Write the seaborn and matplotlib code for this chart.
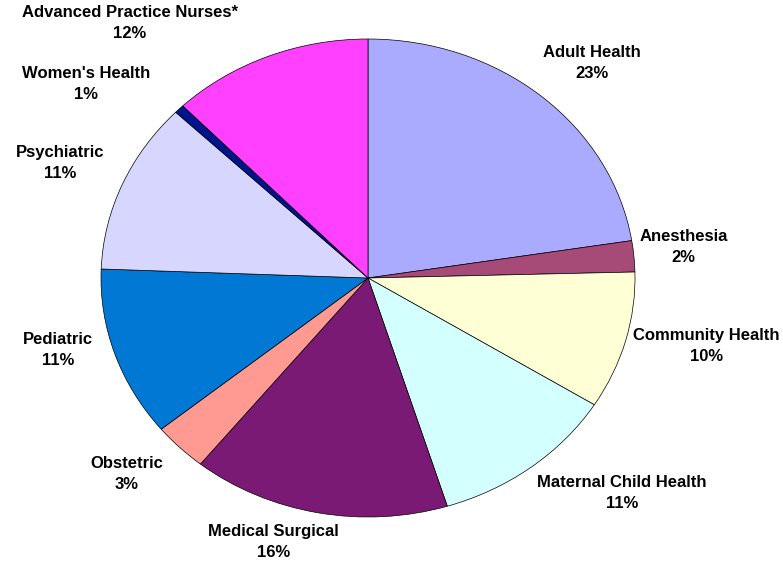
import numpy as np
import seaborn as sns
import matplotlib.pyplot as plt

# specialty areas, clockwise from 12 o'clock
areas = ["Adult Health", "Anesthesia", "Community Health", "Maternal Child Health",
         "Medical Surgical", "Obstetric", "Pediatric", "Psychiatric",
         "Women's Health", "Advanced Practice Nurses*"]
shares = [22.5, 2.1, 9.3, 11.3, 15.6, 3.3, 11.5, 11.6, 0.6, 12.2]
pct_text = ["23%", "2%", "10%", "11%", "16%", "3%", "11%", "11%", "1%", "12%"]
colors = ["#AAAAFF", "#A64A78", "#FFFFD6", "#D4FFFF", "#7A1A74",
          "#FF9A92", "#0078D4", "#D6D6FF", "#00148C", "#FF40FF"]

# label placement: distance from centre (in radii) and angle nudge (deg)
lab_dist = [1.23, 1.19, 1.30, 1.31, 1.16, 1.22, 1.20, 1.25, 1.33, 1.39]
lab_nudge = [-2.5, 1.0, 2.7, 9.0, -7.0, -3.0, -4.0, 0.3, 7.5, 18.0]

sns.set_theme(style="white")
plt.rcParams["font.family"] = ["Liberation Sans", "DejaVu Sans"]

fig = plt.figure(figsize=(7.83, 5.62), dpi=100)
ax = fig.add_axes([0, 0, 1, 1])

wedges, _ = ax.pie(shares, colors=colors, startangle=90, counterclock=False,
                   radius=1.0,
                   wedgeprops=dict(edgecolor="black", linewidth=0.5))

for w, name, pct, d, nudge in zip(wedges, areas, pct_text, lab_dist, lab_nudge):
    mid = np.deg2rad((w.theta1 + w.theta2) / 2 + nudge)
    ax.text(d * np.cos(mid), d * np.sin(mid), f"{name}\n{pct}",
            ha="center", va="center", fontsize=12, fontweight="bold",
            linespacing=1.5, color="black")

# stretch the pie into the flattened ellipse of the original
ax.set_aspect("auto")
rx, ry = 267, 239        # pixel radii
cx, cy = 368, 562 - 278  # pixel centre (from bottom)
ax.set_xlim(-cx / rx, (783 - cx) / rx)
ax.set_ylim(-cy / ry, (562 - cy) / ry)
ax.axis("off")

fig.savefig("out.png", dpi=100, facecolor="white")
